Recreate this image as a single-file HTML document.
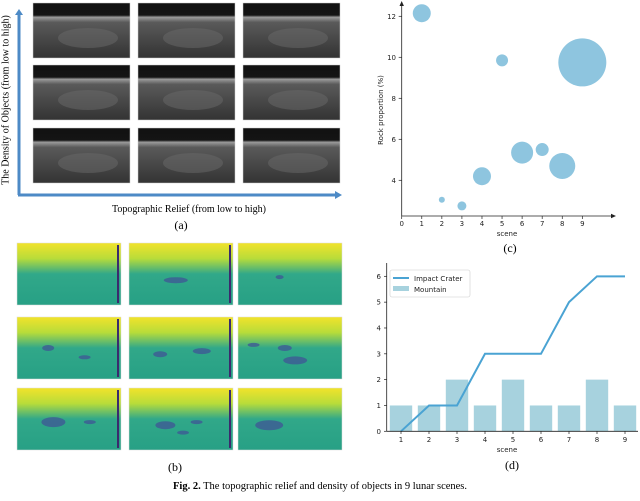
<!DOCTYPE html>
<html><head><meta charset="utf-8"><style>
body{margin:0;background:#fff;width:640px;height:496px;overflow:hidden}
svg text{font-family:"DejaVu Sans","Liberation Sans",sans-serif}
.serif{font-family:"Liberation Serif",serif}
</style></head><body>
<svg id="fig" width="640" height="496" viewBox="0 0 640 496" xmlns="http://www.w3.org/2000/svg">
<defs>
<linearGradient id="ph" x1="0" y1="0" x2="0" y2="1">
<stop offset="0" stop-color="#111"/><stop offset="0.22" stop-color="#141414"/><stop offset="0.26" stop-color="#9a9a9a"/><stop offset="0.35" stop-color="#5a5a5a"/><stop offset="0.7" stop-color="#454545"/><stop offset="1" stop-color="#333"/>
</linearGradient>
<linearGradient id="hm" x1="0" y1="0" x2="0" y2="1">
<stop offset="0" stop-color="#f2e32a"/><stop offset="0.25" stop-color="#b8dc3a"/><stop offset="0.5" stop-color="#31a889"/><stop offset="1" stop-color="#27a085"/>
</linearGradient>
</defs>
<g id="photos"></g>
<line x1="19" y1="195" x2="19" y2="14" stroke="#4d8ac6" stroke-width="3"/>
<polygon points="15,15 23,15 19,9" fill="#4d8ac6"/>
<line x1="18" y1="195" x2="336" y2="195" stroke="#4d8ac6" stroke-width="3"/>
<polygon points="335,191 335,199 342,195" fill="#4d8ac6"/>
<text class="serif" x="6" y="100" font-size="10" transform="rotate(-90 6 100)" text-anchor="middle" dominant-baseline="middle">The Density of Objects (from low to high)</text>
<text class="serif" x="189" y="212" font-size="10" text-anchor="middle">Topographic Relief (from low to high)</text>
<text class="serif" x="181" y="229" font-size="12" text-anchor="middle">(a)</text>
<g id="heat"></g>
<text class="serif" x="175" y="471" font-size="12" text-anchor="middle">(b)</text>
<g id="chartc"></g>
<text class="serif" x="510" y="252" font-size="12" text-anchor="middle">(c)</text>
<g id="chartd"></g>
<text class="serif" x="512" y="469" font-size="12" text-anchor="middle">(d)</text>
<text class="serif" x="320" y="489" font-size="10.5" text-anchor="middle"><tspan font-weight="bold">Fig. 2.</tspan> The topographic relief and density of objects in 9 lunar scenes.</text>
</svg>
<script>
const NS='http://www.w3.org/2000/svg';
function mk(parent,tag,attrs){const e=document.createElementNS(NS,tag);for(const k in attrs)e.setAttribute(k,attrs[k]);parent.appendChild(e);return e;}
// photos
const photoCols=[33,138,243],photoRows=[3,65,128];
const ph=document.getElementById('photos');
photoRows.forEach((y,r)=>photoCols.forEach((x,c)=>{
 const g=mk(ph,'g',{});
 
 
 mk(g,'rect',{x:x,y:y,width:97,height:55,fill:'url(#ph)',stroke:'#ccc','stroke-width':0.5});
 mk(g,'ellipse',{cx:x+55,cy:y+35,rx:30,ry:10,fill:'#6a6a6a',opacity:0.5});
}));
// heatmaps
const hCols=[17,129,238],hRows=[243,317,388];
const blobs=[[],[[0.45,0.6,12,3]],[[0.4,0.55,4,2]],[[0.3,0.5,6,3],[0.65,0.65,6,2]],[[0.3,0.6,7,3],[0.7,0.55,9,3]],[[0.15,0.45,6,2],[0.45,0.5,7,3],[0.55,0.7,12,4]],[[0.35,0.55,12,5],[0.7,0.55,6,2]],[[0.35,0.6,10,4],[0.65,0.55,6,2],[0.52,0.72,6,2]],[[0.3,0.6,14,5]]];
const hm=document.getElementById('heat');
hRows.forEach((y,r)=>hCols.forEach((x,c)=>{
 const g=mk(hm,'g',{});
 
 
 mk(g,'rect',{x:x,y:y,width:104,height:62,fill:'url(#hm)',stroke:'#ddd','stroke-width':0.5});
 blobs[r*3+c].forEach(b=>mk(g,'ellipse',{cx:x+b[0]*104,cy:y+b[1]*62,rx:b[2],ry:b[3],fill:'#3e5a95',opacity:0.8}));
 if(c<2) mk(g,'rect',{x:x+100,y:y+2,width:2,height:58,fill:'#3b2a6e'});
}));
// chart c
const cScenes=[1,2,3,4,5,6,7,8,9];
const cRock=[12.15,3.05,2.75,4.2,9.85,5.35,5.5,4.7,9.75];
const cRadius=[9,3,4.5,9,6,11,6.5,13,24];
const cXTicks=[0,1,2,3,4,5,6,7,8,9];
const cYTicks=[4,6,8,10,12];
const cx=v=>401.7+v*20.07, cy=v=>180.3-(v-4)*20.5;
const C=document.getElementById('chartc');
cScenes.forEach((s,i)=>{const e=mk(C,'circle',{cx:cx(s),cy:cy(cRock[i]),r:cRadius[i],fill:'#8ec5df'});
 
 });
mk(C,'line',{x1:401.7,y1:216,x2:401.7,y2:5,stroke:'#222','stroke-width':0.8});
mk(C,'polygon',{points:'399.5,6 403.9,6 401.7,1',fill:'#222'});
mk(C,'line',{x1:401.7,y1:216,x2:612,y2:216,stroke:'#222','stroke-width':0.8});
mk(C,'polygon',{points:'611,213.8 611,218.2 616,216',fill:'#222'});
cXTicks.forEach(t=>{mk(C,'line',{x1:cx(t),y1:216,x2:cx(t),y2:219,stroke:'#222','stroke-width':0.7});
 const e=mk(C,'text',{x:cx(t),y:226,'font-size':7,'text-anchor':'middle',fill:'#222'});e.textContent=t;
 });
cYTicks.forEach(t=>{mk(C,'line',{x1:398.7,y1:cy(t),x2:401.7,y2:cy(t),stroke:'#222','stroke-width':0.7});
 const e=mk(C,'text',{x:396,y:cy(t)+2.5,'font-size':7,'text-anchor':'end',fill:'#222'});e.textContent=t;
 });
let t1=mk(C,'text',{x:507,y:236,'font-size':7,'text-anchor':'middle',fill:'#222'});t1.textContent='scene';

let t2=mk(C,'text',{x:383,y:110,'font-size':7,'text-anchor':'middle',fill:'#222',transform:'rotate(-90 383 110)'});t2.textContent='Rock proportion (%)';

// chart d
const dScenes=[1,2,3,4,5,6,7,8,9];
const dCrater=[0,1,1,3,3,3,5,6,6];
const dMountain=[1,1,2,1,2,1,1,2,1];
const dYTicks=[0,1,2,3,4,5,6];
const dx=v=>401+(v-1)*28, dy=v=>431.3-v*25.83;
const D=document.getElementById('chartd');
dScenes.forEach((s,i)=>{const e=mk(D,'rect',{x:dx(s)-11.2,y:dy(dMountain[i]),width:22.4,height:dy(0)-dy(dMountain[i]),fill:'#a7d2de'});
 
 });
const pl=mk(D,'polyline',{points:dScenes.map((s,i)=>dx(s)+','+dy(dCrater[i])).join(' '),fill:'none',stroke:'#4aa3d3','stroke-width':2});

mk(D,'line',{x1:386.7,y1:263,x2:386.7,y2:431.3,stroke:'#222','stroke-width':0.8});
mk(D,'line',{x1:386.7,y1:431.3,x2:638,y2:431.3,stroke:'#222','stroke-width':0.8});
dScenes.forEach(t=>{mk(D,'line',{x1:dx(t),y1:431.3,x2:dx(t),y2:434,stroke:'#222','stroke-width':0.7});
 const e=mk(D,'text',{x:dx(t),y:442,'font-size':7,'text-anchor':'middle',fill:'#222'});e.textContent=t;
 });
dYTicks.forEach(t=>{mk(D,'line',{x1:384,y1:dy(t),x2:386.7,y2:dy(t),stroke:'#222','stroke-width':0.7});
 const e=mk(D,'text',{x:381,y:dy(t)+2.5,'font-size':7,'text-anchor':'end',fill:'#222'});e.textContent=t;
 });
let t3=mk(D,'text',{x:507,y:452,'font-size':7,'text-anchor':'middle',fill:'#222'});t3.textContent='scene';

const lg=mk(D,'g',{});

mk(lg,'rect',{x:390,y:270,width:80,height:27,rx:2,fill:'#fff',stroke:'#ccc','stroke-width':0.6});
mk(lg,'line',{x1:393,y1:278,x2:409,y2:278,stroke:'#4aa3d3','stroke-width':2});
mk(lg,'rect',{x:393,y:286,width:16,height:5,fill:'#a7d2de'});
let l1=mk(lg,'text',{x:414,y:281,'font-size':7,fill:'#222'});l1.textContent='Impact Crater';

let l2=mk(lg,'text',{x:414,y:292,'font-size':7,fill:'#222'});l2.textContent='Mountain';

</script>
</body></html>
